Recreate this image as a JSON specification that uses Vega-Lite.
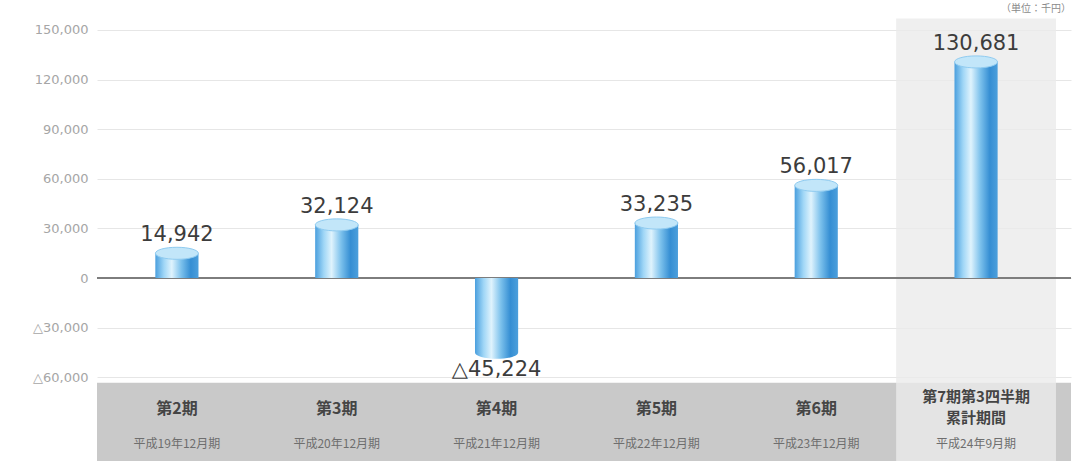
{
  "$schema": "https://vega.github.io/schema/vega-lite/v6.json",
  "autosize": {"type": "fit", "contains": "padding"},
  "width": 1072,
  "height": 461,
  "padding": {"left": 32, "top": 0, "right": 0, "bottom": 0},
  "background": "white",
  "config": {"view": {"stroke": null}},
  "data": {
    "values": [
      {"period": "第2期", "date": "平成19年12月期", "value": 14942, "label": "14,942"},
      {"period": "第3期", "date": "平成20年12月期", "value": 32124, "label": "32,124"},
      {"period": "第4期", "date": "平成21年12月期", "value": -45224, "label": "△45,224"},
      {"period": "第5期", "date": "平成22年12月期", "value": 33235, "label": "33,235"},
      {"period": "第6期", "date": "平成23年12月期", "value": 56017, "label": "56,017"},
      {"period": "第7期第3四半期\n累計期間", "date": "平成24年9月期", "value": 130681, "label": "130,681"}
    ]
  },
  "encoding": {
    "x": {"field": "period", "type": "nominal",
      "sort": ["第2期", "第3期", "第4期", "第5期", "第6期", "第7期第3四半期\n累計期間"],
      "axis": null,
      "scale": {"paddingInner": 0, "paddingOuter": 0.047, "align": 0}}
  },
  "layer": [
    {
      "data": {"values": [{}]},
      "mark": {"type": "rect", "color": "#c9c9c9"},
      "encoding": {
        "x": null,
        "y": {"datum": -63300, "type": "quantitative",
          "scale": {"domain": [-110678, 168134], "nice": false, "zero": false},
          "axis": {
            "values": [-60000, -30000, 0, 30000, 60000, 90000, 120000, 150000],
            "labelExpr": "datum.value < 0 ? '△' + format(-datum.value, ',') : format(datum.value, ',')",
            "title": null, "domain": false, "ticks": false, "labelPadding": 9,
            "labelColor": "#a6a6a6", "labelFont": "DejaVu Sans", "labelFontSize": 13,
            "grid": true, "gridColor": "#e6e6e6", "gridWidth": 1
          }},
        "y2": {"datum": -110678}
      }
    },
    {
      "transform": [{"filter": "datum.date === '平成24年9月期'"}],
      "mark": {"type": "rect", "color": "#ebebeb", "opacity": 0.8},
      "encoding": {
        "y": {"datum": 157000, "type": "quantitative"},
        "y2": {"datum": -110678}
      }
    },
    {
      "data": {"values": [{}]},
      "mark": {"type": "rule", "color": "#7d7d7d", "strokeWidth": 2},
      "encoding": {"x": null, "y": {"datum": 0, "type": "quantitative"}}
    },
    {
      "mark": {"type": "bar", "width": {"band": 0.27},
        "color": {"gradient": "linear", "x1": 0, "x2": 1, "y1": 0, "y2": 0,
          "stops": [
            {"offset": 0, "color": "#4a9fde"},
            {"offset": 0.2, "color": "#9fd6f6"},
            {"offset": 0.38, "color": "#dff3fd"},
            {"offset": 0.6, "color": "#7cc1ec"},
            {"offset": 0.82, "color": "#358ed3"},
            {"offset": 1, "color": "#4c9fdc"}
          ]}},
      "encoding": {
        "y": {"field": "value", "type": "quantitative"},
        "y2": {"datum": 0}
      }
    },
    {
      "transform": [{"filter": "datum.value < 0"}],
      "mark": {"type": "point", "filled": true, "size": 1849, "opacity": 1,
        "shape": "M-1,0A1,0.28,0,1,0,1,0A1,0.28,0,1,0,-1,0Z",
        "color": {"gradient": "linear", "x1": 0, "x2": 1, "y1": 0, "y2": 0,
          "stops": [
            {"offset": 0, "color": "#4a9fde"},
            {"offset": 0.2, "color": "#9fd6f6"},
            {"offset": 0.38, "color": "#dff3fd"},
            {"offset": 0.6, "color": "#7cc1ec"},
            {"offset": 0.82, "color": "#358ed3"},
            {"offset": 1, "color": "#4c9fdc"}
          ]}},
      "encoding": {"y": {"field": "value", "type": "quantitative"}}
    },
    {
      "transform": [{"filter": "datum.value > 0"}],
      "mark": {"type": "point", "filled": true, "size": 1849, "opacity": 1,
        "shape": "M-1,0A1,0.28,0,1,0,1,0A1,0.28,0,1,0,-1,0Z",
        "fill": "#c2e6f9", "stroke": "#8fcbf0", "strokeWidth": 1},
      "encoding": {"y": {"field": "value", "type": "quantitative"}}
    },
    {
      "transform": [{"filter": "datum.value > 0"}],
      "mark": {"type": "text", "baseline": "alphabetic", "dy": -12, "font": "DejaVu Sans", "fontSize": 21, "color": "#3c3c3c"},
      "encoding": {"y": {"field": "value", "type": "quantitative"}, "text": {"field": "label"}}
    },
    {
      "transform": [{"filter": "datum.value < 0"}],
      "mark": {"type": "text", "baseline": "top", "dy": 6, "font": "DejaVu Sans", "fontSize": 21, "color": "#3c3c3c"},
      "encoding": {"y": {"field": "value", "type": "quantitative"}, "text": {"field": "label"}}
    },
    {
      "transform": [{"filter": "datum.date !== '平成24年9月期'"}],
      "mark": {"type": "text", "baseline": "middle", "font": "Noto Sans CJK JP", "fontWeight": "bold", "fontSize": 16, "color": "#454545"},
      "encoding": {"y": {"datum": -79229, "type": "quantitative"}, "text": {"field": "period"}}
    },
    {
      "transform": [{"filter": "datum.date === '平成24年9月期'"}],
      "mark": {"type": "text", "baseline": "middle", "lineBreak": "\n", "lineHeight": 21, "dy": -12, "font": "Noto Sans CJK JP", "fontWeight": "bold", "fontSize": 15, "color": "#454545"},
      "encoding": {"y": {"datum": -79229, "type": "quantitative"}, "text": {"field": "period"}}
    },
    {
      "mark": {"type": "text", "baseline": "middle", "font": "Noto Sans CJK JP", "fontSize": 12, "color": "#6e6e6e"},
      "encoding": {"y": {"datum": -100400, "type": "quantitative"}, "text": {"field": "date"}}
    },
    {
      "data": {"values": [{"unit": "（単位：千円）"}]},
      "mark": {"type": "text", "align": "right", "baseline": "middle", "dx": 95, "font": "Noto Sans CJK JP", "fontSize": 10, "color": "#8a8a8a"},
      "encoding": {
        "x": {"datum": "第7期第3四半期\n累計期間"},
        "y": {"datum": 162700, "type": "quantitative"},
        "text": {"field": "unit"}
      }
    }
  ]
}
